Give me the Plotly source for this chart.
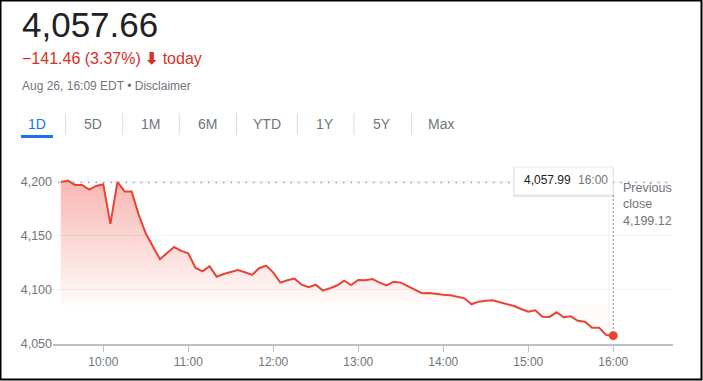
import pandas as pd
import plotly.graph_objects as go

W, H = 703, 381

# ---- data ----
session_date = "2022-08-26"
times = pd.date_range(f"{session_date} 09:30", f"{session_date} 16:00", freq="5min")
prices = [
    4199.7, 4201.0, 4197.0, 4197.0, 4192.6, 4196.0, 4197.6, 4161.0, 4199.7, 4191.0,
    4190.8, 4169.5, 4152.0, 4140.0, 4128.3, 4134.0, 4139.6, 4136.0, 4133.8, 4120.5,
    4117.2, 4122.0, 4112.2, 4114.7, 4116.5, 4118.4, 4116.3, 4113.8, 4120.0, 4122.4,
    4116.0, 4106.7, 4108.9, 4110.4, 4104.8, 4102.4, 4104.8, 4099.3, 4101.5, 4104.0,
    4108.5, 4104.5, 4109.2, 4108.9, 4110.0, 4106.7, 4104.2, 4107.6, 4106.7, 4103.6,
    4100.6, 4096.9, 4097.1, 4096.0, 4095.6, 4095.0, 4093.7, 4092.2, 4086.7, 4089.1,
    4090.0, 4090.4, 4088.5, 4086.7, 4085.1, 4082.3, 4079.9, 4081.1, 4075.2, 4075.0,
    4079.3, 4074.7, 4075.6, 4071.5, 4070.6, 4065.1, 4065.1, 4058.3, 4057.7,
]
previous_close = 4199.12
fill_floor = 4086
y_ticks = [4050, 4100, 4150, 4200]
x_ticks = ["10:00", "11:00", "12:00", "13:00", "14:00", "15:00", "16:00"]
tabs = ["1D", "5D", "1M", "6M", "YTD", "1Y", "5Y", "Max"]

header_price = "4,057.66"
header_change = "−141.46 (3.37%) <b>⬇</b> today"
header_meta = "Aug 26, 16:09 EDT • Disclaimer"
tooltip_value = "4,057.99"
tooltip_time = "16:00"
prev_close_text = "Previous<br>close<br>4,199.12"

RED = "#ea4335"
GREY = "#70757a"
FONT = "Liberation Sans, Arial, sans-serif"


def px(x):
    return x / W


def py(y):
    return 1 - y / H


fig = go.Figure()

# invisible floor for the gradient fill
fig.add_trace(go.Scatter(
    x=times, y=[fill_floor] * len(times), mode="lines",
    line=dict(width=0, color="rgba(0,0,0,0)"), hoverinfo="skip", showlegend=False,
))
fig.add_trace(go.Scatter(
    x=times, y=prices, mode="lines",
    line=dict(color=RED, width=2),
    fill="tonexty",
    fillgradient=dict(
        type="vertical", start=fill_floor, stop=max(prices),
        colorscale=[[0, "rgba(234,67,53,0.02)"], [1, "rgba(234,67,53,0.38)"]],
    ),
    hoverinfo="skip", showlegend=False,
))
fig.add_trace(go.Scatter(
    x=[times[-1]], y=[prices[-1]], mode="markers",
    marker=dict(color=RED, size=9), hoverinfo="skip", showlegend=False,
))

tick_vals = [pd.Timestamp(f"{session_date} {t}") for t in x_ticks]

fig.update_layout(
    width=W, height=H,
    autosize=False,
    margin=dict(l=0, r=0, t=0, b=0, pad=0),
    paper_bgcolor="white", plot_bgcolor="white",
    font=dict(family=FONT, color=GREY, size=12),
    xaxis=dict(
        domain=[px(53), px(673)],
        range=[f"{session_date} 09:24:30", f"{session_date} 16:42:12"],
        tickvals=tick_vals, ticktext=x_ticks,
        showgrid=False, zeroline=False, automargin=False,
        showline=True, linecolor="#bdc1c6", linewidth=2,
        ticks="outside", ticklen=6, tickcolor="#bdc1c6", tickwidth=1,
        tickfont=dict(size=12, color=GREY),
        fixedrange=True,
    ),
    yaxis=dict(
        domain=[py(344), py(160)],
        range=[4050, 4220],
        tickvals=y_ticks, tickformat=",d",
        showgrid=True, gridcolor="#f1f3f4", gridwidth=1,
        zeroline=False, showline=False, ticks="", automargin=False,
        tickfont=dict(size=12.5, color=GREY),
        fixedrange=True,
    ),
)

shapes = []
# previous close dotted line
shapes.append(dict(type="line", xref="paper", yref="y", x0=px(58), x1=px(673),
                   y0=previous_close, y1=previous_close,
                   line=dict(color="#9aa0a6", width=1.5, dash="1.5px,6px")))
# vertical dotted line at last point
shapes.append(dict(type="line", xref="x", yref="paper", x0=times[-1], x1=times[-1],
                   y0=py(333), y1=py(195),
                   line=dict(color="#80868b", width=1, dash="2px,2px")))
# tooltip shadow + box
shapes.append(dict(type="rect", xref="paper", yref="paper",
                   x0=px(513), x1=px(614), y0=py(197), y1=py(167),
                   fillcolor="rgba(0,0,0,0.10)", line=dict(width=0)))
shapes.append(dict(type="rect", xref="paper", yref="paper",
                   x0=px(514), x1=px(613), y0=py(195), y1=py(167),
                   fillcolor="white", line=dict(color="#e8eaed", width=1)))
# tabs separators
for sx in [65.7, 122.7, 179.3, 236.7, 297.3, 354, 411.7]:
    shapes.append(dict(type="line", xref="paper", yref="paper",
                       x0=px(sx), x1=px(sx), y0=py(113), y1=py(135),
                       line=dict(color="#dadce0", width=1)))
# active tab underline
shapes.append(dict(type="rect", xref="paper", yref="paper",
                   x0=px(21), x1=px(53), y0=py(138), y1=py(135),
                   fillcolor="#1a73e8", line=dict(width=0)))
# outer border
shapes.append(dict(type="rect", xref="paper", yref="paper",
                   x0=px(0.5), x1=px(701.5), y0=py(379.5), y1=py(0.5),
                   line=dict(color="black", width=2), fillcolor="rgba(0,0,0,0)"))

annotations = []
annotations.append(dict(text=header_price, x=px(20), y=py(25), xref="paper", yref="paper",
                        xanchor="left", yanchor="middle", showarrow=False,
                        font=dict(size=35, color="#202124", family=FONT)))
annotations.append(dict(text=header_change, x=px(20), y=py(58), xref="paper", yref="paper",
                        xanchor="left", yanchor="middle", showarrow=False,
                        font=dict(size=16, color="#d93025", family=FONT)))
annotations.append(dict(text=header_meta, x=px(20), y=py(86), xref="paper", yref="paper",
                        xanchor="left", yanchor="middle", showarrow=False,
                        font=dict(size=12, color=GREY, family=FONT)))
tab_centers = [37, 93, 150.7, 207, 266.7, 325, 381.7, 440.7]
for i, (t, cx) in enumerate(zip(tabs, tab_centers)):
    annotations.append(dict(text=t, x=px(cx), y=py(124), xref="paper", yref="paper",
                            xanchor="center", yanchor="middle", showarrow=False,
                            font=dict(size=14, color="#1a73e8" if i == 0 else GREY, family=FONT)))
annotations.append(dict(text=tooltip_value, x=px(522), y=py(180), xref="paper", yref="paper",
                        xanchor="left", yanchor="middle", showarrow=False,
                        font=dict(size=12, color="#202124", family=FONT)))
annotations.append(dict(text=tooltip_time, x=px(576), y=py(180), xref="paper", yref="paper",
                        xanchor="left", yanchor="middle", showarrow=False,
                        font=dict(size=12, color=GREY, family=FONT)))
annotations.append(dict(text=prev_close_text, x=px(621), y=py(204.5), xref="paper", yref="paper",
                        xanchor="left", yanchor="middle", align="left", showarrow=False,
                        font=dict(size=12.5, color=GREY, family=FONT)))

fig.update_layout(shapes=shapes, annotations=annotations)
fig.write_html("out.html", config={"displayModeBar": False})
